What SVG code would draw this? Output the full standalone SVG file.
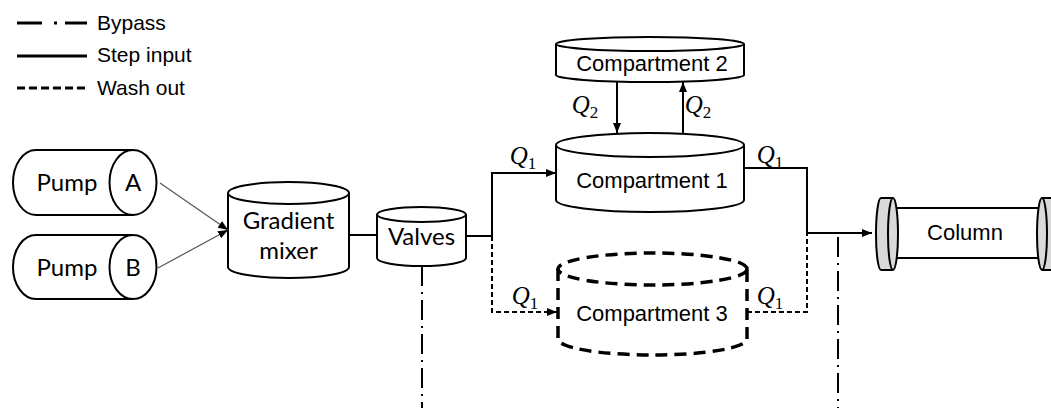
<svg xmlns="http://www.w3.org/2000/svg" width="1051" height="408" viewBox="0 0 1051 408">
  <defs>
    <marker id="arrow" viewBox="0 0 10 8" refX="10" refY="4" markerWidth="10" markerHeight="8" markerUnits="userSpaceOnUse" orient="auto">
      <path d="M0,0 L10,4 L0,8 z" fill="#000"/>
    </marker>
    <style>
      .shape { fill: #fff; stroke: #000; stroke-width: 2; }
      .cap { fill: #d9d9d9; stroke: #000; stroke-width: 2; }
      .wash-shape { fill: none; stroke: #000; stroke-width: 3.5; stroke-dasharray: 12 7; }
      .flow { fill: none; stroke: #000; stroke-width: 2; }
      .wash { fill: none; stroke: #000; stroke-width: 2; stroke-dasharray: 5 3; }
      .bypass { fill: none; stroke: #000; stroke-width: 2; stroke-dasharray: 20 6 2 6; }
      .feed { fill: none; stroke: #555; stroke-width: 1.2; }
      .key { fill: none; stroke: #000; stroke-width: 3; }
      .lbl { font-family: "Liberation Sans", Arial, sans-serif; font-size: 22px; fill: #000; text-anchor: middle; }
      .cal { font-family: Lato, "Noto Sans", sans-serif; font-size: 24px; fill: #000; text-anchor: middle; }
      .leg { font-family: "Liberation Sans", Arial, sans-serif; font-size: 21px; fill: #000; }
      .q { font-family: "Liberation Serif", "Times New Roman", serif; font-size: 25px; font-style: italic; fill: #000; text-anchor: middle; }
      .q tspan { font-style: normal; font-size: 17px; }
    </style>
  </defs>

  <!-- legend -->
  <g id="legend">
    <path d="M17 23 H42 M54 23 H57 M65 23 H87" class="key"/>
    <text x="97" y="30" class="leg">Bypass</text>
    <path d="M17 56 H87" class="key"/>
    <text x="97" y="62" class="leg">Step input</text>
    <path d="M17 88 H87" class="key" stroke-dasharray="8 4"/>
    <text x="97" y="95" class="leg">Wash out</text>
  </g>

  <!-- pumps -->
  <g id="pumpA">
    <path d="M133 150 H36 A23 32.5 0 0 0 36 215 H133" class="shape"/>
    <ellipse cx="133" cy="182.5" rx="23.5" ry="32.5" class="shape"/>
    <text x="67" y="191" class="cal">Pump</text>
    <text x="133" y="191" class="cal">A</text>
  </g>
  <g id="pumpB">
    <path d="M133 235 H36 A23 32 0 0 0 36 299 H133" class="shape"/>
    <ellipse cx="133" cy="267" rx="23.5" ry="32" class="shape"/>
    <text x="67" y="276" class="cal">Pump</text>
    <text x="133" y="276" class="cal">B</text>
  </g>

  <!-- gradient mixer -->
  <g id="mixer">
    <path d="M228 193 V267 A60.5 11 0 0 0 349 267 V193" class="shape"/>
    <ellipse cx="288.5" cy="193" rx="60.5" ry="11" class="shape"/>
    <text x="288.5" y="229" class="cal">Gradient</text>
    <text x="288.5" y="259" class="cal">mixer</text>
  </g>

  <!-- valves -->
  <g id="valves">
    <path d="M377 214.5 V258 A44.5 8 0 0 0 466 258 V214.5" class="shape"/>
    <ellipse cx="421.5" cy="214.5" rx="44.5" ry="7.5" class="shape"/>
    <text x="421.5" y="245" class="cal">Valves</text>
  </g>

  <!-- compartments -->
  <g id="compartment2">
    <path d="M556 44 V75 A94 7 0 0 0 744 75 V44" class="shape"/>
    <ellipse cx="650" cy="44" rx="94" ry="7" class="shape"/>
    <text x="652" y="71" class="lbl">Compartment 2</text>
  </g>
  <g id="compartment1">
    <path d="M556 145 V200 A94 12 0 0 0 744 200 V145" class="shape"/>
    <ellipse cx="650" cy="145" rx="94" ry="12" class="shape"/>
    <text x="652" y="188" class="lbl">Compartment 1</text>
  </g>
  <g id="compartment3">
    <path d="M558 269 V339 A94.5 16 0 0 0 747 339 V269" class="wash-shape"/>
    <ellipse cx="652.5" cy="269" rx="94.5" ry="16" class="wash-shape"/>
    <text x="652" y="321" class="lbl">Compartment 3</text>
  </g>

  <!-- column -->
  <g id="column">
    <rect x="895" y="208" width="145" height="50" class="shape"/>
    <path d="M893 198 H881 A5 36 0 0 0 881 270 H893" class="cap"/>
    <ellipse cx="893" cy="234" rx="5" ry="36" class="cap"/>
    <path d="M1042 198 H1064 V270 H1042" class="cap"/>
    <ellipse cx="1042" cy="234" rx="5" ry="36" class="cap"/>
    <text x="965" y="240" class="lbl">Column</text>
  </g>

  <!-- connectors -->
  <g id="connectors">
    <path d="M160 183 L228 230" class="feed" marker-end="url(#arrow)"/>
    <path d="M158 268 L228 230" class="feed" marker-end="url(#arrow)"/>
    <path d="M349 235 H377" class="flow"/>
    <path d="M466 236 H492 V173 H556" class="flow" marker-end="url(#arrow)"/>
    <path d="M492 236 V312 H557" class="wash" marker-end="url(#arrow)"/>
    <path d="M617 82 V133" class="flow" marker-end="url(#arrow)"/>
    <path d="M683 134 V82" class="flow" marker-end="url(#arrow)"/>
    <path d="M744 168 H807 V233 H872" class="flow" marker-end="url(#arrow)"/>
    <path d="M747 312 H807 V233" class="wash"/>
    <path d="M422 266 V408" class="bypass"/>
    <path d="M838 237 V408" class="bypass"/>
  </g>

  <!-- flow rate labels -->
  <g id="flow-labels">
    <text x="523" y="164" class="q">Q<tspan dy="5">1</tspan></text>
    <text x="770" y="163" class="q">Q<tspan dy="5">1</tspan></text>
    <text x="585" y="113" class="q">Q<tspan dy="5">2</tspan></text>
    <text x="698" y="113" class="q">Q<tspan dy="5">2</tspan></text>
    <text x="525" y="304" class="q">Q<tspan dy="5">1</tspan></text>
    <text x="770" y="304" class="q">Q<tspan dy="5">1</tspan></text>
  </g>
</svg>
